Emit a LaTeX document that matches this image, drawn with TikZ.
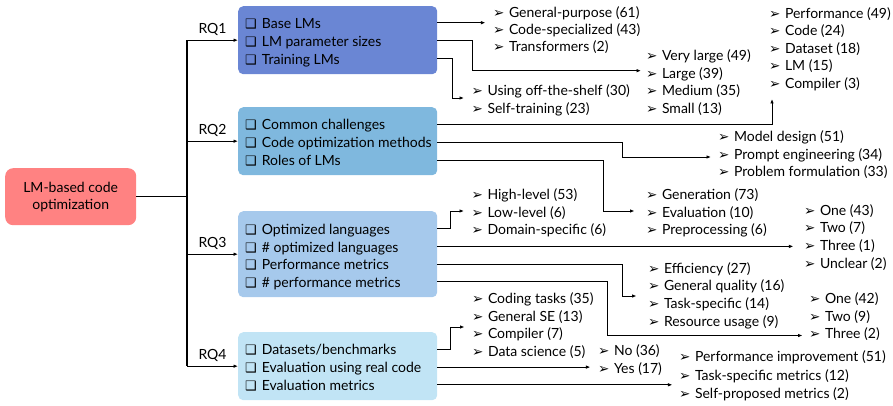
\documentclass[tikz,border=0pt]{standalone}
\usepackage{fontspec}
\setmainfont{Lato}
\newfontfamily\symf{DejaVu Sans}
\usetikzlibrary{arrows.meta}
\definecolor{cRoot}{HTML}{FF8282}
\definecolor{cA}{HTML}{6A86D4}
\definecolor{cB}{HTML}{7FB8DE}
\definecolor{cC}{HTML}{A6C9EC}
\definecolor{cD}{HTML}{C1E4F5}
\newcommand\bxs{{\symf\bfseries\fontsize{13}{13}\selectfont ❑}\hspace{5pt}}
\newcommand\arw{{\symf\fontsize{13.5}{13.5}\selectfont ➢}\hspace{4.5pt}}
\newcommand\mklist[5]{\foreach \t [count=\i] in {#5} {\node[li] (#1-\i) at (#2,{#3+(\i-1)*#4}) {\arw\t};}}
\begin{document}
\begin{tikzpicture}[x=1pt,y=-1pt,
  font=\fontsize{14}{18}\selectfont,
  rqbox/.style={anchor=north west, rounded corners=5pt, inner sep=0pt, draw=none, minimum width=199pt},
  item/.style={anchor=base west, inner sep=0pt, text height=11.2pt, text depth=0pt},
  li/.style={anchor=base west, inner sep=0pt, text height=11.2pt, text depth=0pt},
  conn/.style={line width=0.9pt, -{Latex[length=4.5pt,width=3.6pt]}},
  trunk/.style={line width=1.1pt},
  rqlab/.style={midway, anchor=base, yshift=7pt, inner sep=0pt}]
\useasboundingbox (0,0) rectangle (893,406);

% root
\node[fill=cRoot, rounded corners=8pt, minimum width=131pt, minimum height=57pt, inner sep=0pt, anchor=north west] (root) at (5,168) {};
\node[align=center, inner sep=0pt, font=\fontsize{14}{16.7}\selectfont] (rootT) at (root.center) {LM-based code\\optimization};

% RQ boxes
\node[rqbox, fill=cA, minimum height=68pt] (rq1) at (238,6) {};
\node[rqbox, fill=cB, minimum height=68pt] (rq2) at (238,107) {};
\node[rqbox, fill=cC, minimum height=86pt] (rq3) at (238,211) {};
\node[rqbox, fill=cD, minimum height=68pt] (rq4) at (238,332) {};

% items
\node[item] (rq1-1) at (245,28.3) {\bxs Base LMs};
\node[item] (rq1-2) at (245,46.4) {\bxs LM parameter sizes};
\node[item] (rq1-3) at (245,64.5) {\bxs Training LMs};
\node[item] (rq2-1) at (245,130) {\bxs Common challenges};
\node[item] (rq2-2) at (245,147.8) {\bxs Code optimization methods};
\node[item] (rq2-3) at (245,165.6) {\bxs Roles of LMs};
\node[item] (rq3-1) at (245,234) {\bxs Optimized languages};
\node[item] (rq3-2) at (245,252) {\bxs \# optimized languages};
\node[item] (rq3-3) at (245,269.6) {\bxs Performance metrics};
\node[item] (rq3-4) at (245,287.3) {\bxs \# performance metrics};
\node[item] (rq4-1) at (245,354.7) {\bxs Datasets/benchmarks};
\node[item] (rq4-2) at (245,372.7) {\bxs Evaluation using real code};
\node[item] (rq4-3) at (245,390.4) {\bxs Evaluation metrics};

% trunk
\coordinate (j) at (187,0);
\draw[trunk] (root.east) -- (root.east -| j);
\draw[trunk] (j |- rq1.west) -- (j |- rq4.west);
\draw[conn] (j |- rq1.west) -- node[rqlab] {RQ1} (rq1.west);
\draw[conn] (j |- rq2.west) -- node[rqlab] {RQ2} (rq2.west);
\draw[conn] (j |- rq3.west) -- node[rqlab] {RQ3} (rq3.west);
\draw[conn] (j |- rq4.west) -- node[rqlab] {RQ4} (rq4.west);

% lists
\mklist{l1}{493}{17.3}{17.3}{General-purpose (61),Code-specialized (43),Transformers (2)}
\mklist{l2}{646}{61}{17.45}{Very large (49),Large (39),Medium (35),Small (13)}
\mklist{l3}{471.5}{96}{17.4}{Using off-the-shelf (30),Self-training (23)}
\mklist{l4}{769}{18.5}{17.45}{Performance (49),Code (24),Dataset (18),LM (15),Compiler (3)}
\mklist{l5}{718}{141.5}{17.6}{Model design (51),Prompt engineering (34),Problem formulation (33)}
\mklist{l6}{646}{199.5}{17.7}{Generation (73),Evaluation (10),Preprocessing (6)}
\mklist{l7}{471.5}{199.5}{17.7}{High-level (53),Low-level (6),Domain-specific (6)}
\mklist{l8}{804}{215}{17.8}{One (43),Two (7),Three (1),Unclear (2)}
\mklist{l9}{648}{273.3}{17.6}{Efficiency (27),General quality (16),Task-specific (14),Resource usage (9)}
\mklist{l10}{809}{303.3}{17.8}{One (42),Two (9),Three (2)}
\mklist{l11}{472}{303.3}{17.8}{Coding tasks (35),General SE (13),Compiler (7),Data science (5)}
\mklist{l12}{598}{355}{18.2}{No (36),Yes (17)}
\mklist{l13}{679}{361.7}{18.3}{Performance improvement (51),Task-specific metrics (12),Self-proposed metrics (2)}

% connectors
\draw[conn] (rq1-1 -| rq1.east) -- ++(48,0);
\draw[conn] (rq1-2 -| rq1.east) -| (472,70.7) -- (641,70.7);
\draw[conn] (rq1-3 -| rq1.east) -| (452,98) -- (464,98);
\draw[conn] (rq2-1 -| rq2.east) -| (772,99);
\draw[conn] (rq2-2 -| rq2.east) -| (622,157) -- (711,157);
\draw[conn] (rq2-3 -| rq2.east) -| (603,211) -- (634.5,211);
\draw[conn] (rq3-1 -| rq3.east) -| (450.5,211) -- (464,211);
\draw[conn] (rq3-2 -| rq3.east) -- ++(356,0);
\draw[conn] (rq3-3 -| rq3.east) -| (622,296) -- (636.5,296);
\draw[conn] (rq3-4 -| rq3.east) -| (607,335.5) -- (802.5,335.5);
\draw[conn] (rq4-1 -| rq4.east) -| (450.5,327) -- (464.5,327);
\draw[conn] (rq4-2 -| rq4.east) -- ++(153,0);
\draw[conn] (rq4-3 -| rq4.east) -- ++(235,0);
\end{tikzpicture}
\end{document}
